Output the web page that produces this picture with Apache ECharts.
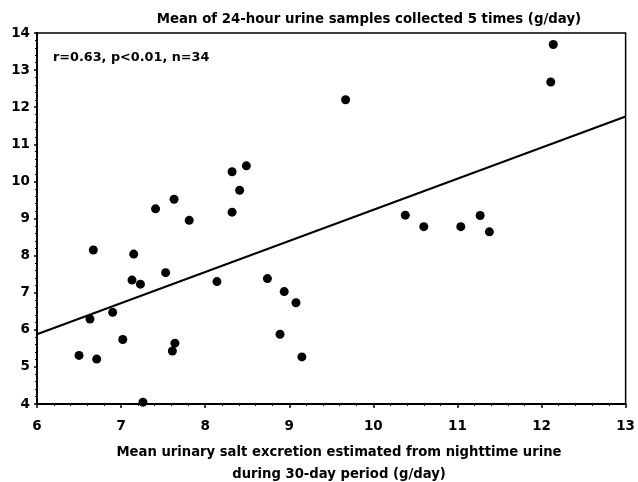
<!DOCTYPE html>
<html><head><meta charset="utf-8">
<script src="https://cdn.jsdelivr.net/npm/echarts@6/dist/echarts.min.js"></script>
<style>html,body{margin:0;padding:0;background:#fff}#c{width:638px;height:482px}</style>
</head><body><div id="c"></div>
<script>
const xTicks = [6, 7, 8, 9, 10, 11, 12, 13];
const yTicks = [4, 5, 6, 7, 8, 9, 10, 11, 12, 13, 14];
const nightX = [7.41, 7.63, 7.81, 8.32, 8.49, 8.41, 8.32,
  9.67, 12.14, 12.11, 10.38, 10.60, 11.04, 11.27, 11.38,
  6.67, 7.15, 7.53, 7.13, 7.23, 8.14, 8.74, 8.94, 9.08,
  6.63, 6.90, 7.02, 8.89, 6.50, 6.71, 7.64, 7.61, 9.15, 7.26];
const dayY = [9.26, 9.52, 8.95, 10.26, 10.42, 9.76, 9.17,
  12.20, 13.69, 12.68, 9.09, 8.78, 8.78, 9.08, 8.64,
  8.15, 8.04, 7.54, 7.34, 7.23, 7.30, 7.38, 7.03, 6.73,
  6.29, 6.47, 5.74, 5.88, 5.31, 5.21, 5.64, 5.43, 5.27, 4.05];
const fitX = [6, 13];
const fitY = [5.88, 11.75];
const titleText = 'Mean of 24-hour urine samples collected 5 times (g/day)';
const xName = 'Mean urinary salt excretion estimated from nighttime urine\nduring 30-day period (g/day)';
const statText = 'r=0.63, p<0.01, n=34';

const FONT = '"DejaVu Sans", "Liberation Sans", Arial, sans-serif';
const tickRich = {b: {fontFamily: FONT, fontWeight: 'bold', fontSize: 13.5, color: '#000'}};
const chart = echarts.init(document.getElementById('c'));
chart.setOption({
  animation: false,
  backgroundColor: '#fff',
  title: [{
    text: titleText, left: 364, top: 8, textAlign: 'center',
    textStyle: {fontFamily: FONT, fontWeight: 'bold', fontSize: 13.3, color: '#000'}
  }, {
    text: statText, left: 48, top: 46,
    textStyle: {fontFamily: FONT, fontWeight: 'bold', fontSize: 12.8, color: '#000'}
  }, {
    text: xName, left: 334, top: 437, textAlign: 'center',
    textStyle: {fontFamily: FONT, fontWeight: 'bold', fontSize: 13.2, color: '#000', lineHeight: 22}
  }],
  grid: {left: 37, right: 7, top: 33, bottom: 78, show: true, borderColor: '#000', borderWidth: 1.5, backgroundColor: 'transparent'},
  xAxis: {
    type: 'value', min: xTicks[0], max: xTicks[xTicks.length - 1], interval: 1,
    axisLine: {show: true, lineStyle: {color: '#000', width: 2}},
    axisTick: {show: true, length: 4, inside: false, lineStyle: {color: '#000', width: 1.5}},
    minorTick: {show: true, splitNumber: 5, length: 2, lineStyle: {color: '#000'}},
    splitLine: {show: false},
    axisLabel: {fontFamily: FONT, fontWeight: 'bold', fontSize: 13.5, color: '#000', margin: 15, rich: tickRich,
      formatter: v => xTicks.includes(v) ? '{b|' + v + '}' : ''}
  },
  yAxis: {
    type: 'value', min: yTicks[0], max: yTicks[yTicks.length - 1], interval: 1,
    axisLine: {show: true, lineStyle: {color: '#000', width: 2}},
    axisTick: {show: true, length: 3, lineStyle: {color: '#000', width: 1.5}},
    minorTick: {show: true, splitNumber: 5, length: 2, lineStyle: {color: '#000'}},
    splitLine: {show: false},
    axisLabel: {fontFamily: FONT, fontWeight: 'bold', fontSize: 13.5, color: '#000', margin: 7, rich: tickRich,
      formatter: v => yTicks.includes(v) ? '{b|' + v + '}' : ''}
  },
  series: [{
    type: 'line', data: fitX.map((x, i) => [x, fitY[i]]), showSymbol: false,
    lineStyle: {color: '#000', width: 2}, z: 2
  }, {
    type: 'scatter', data: nightX.map((x, i) => [x, dayY[i]]), symbolSize: 9,
    itemStyle: {color: '#000', opacity: 1}, z: 3
  }]
});
</script></body></html>
